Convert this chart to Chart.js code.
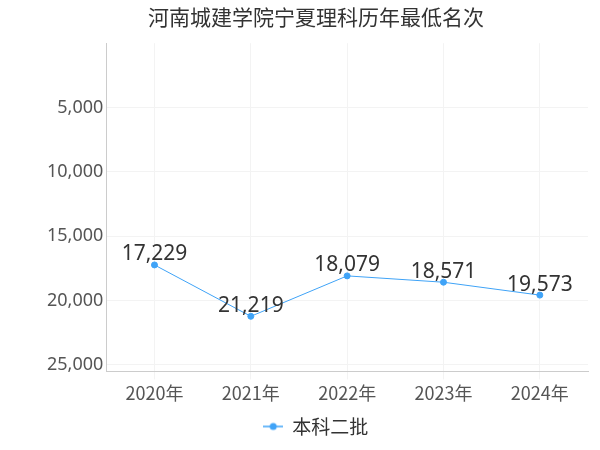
<!DOCTYPE html>
<html><head><meta charset="utf-8">
<script src="https://cdn.jsdelivr.net/npm/chart.js@4"></script>
<style>body{margin:0;background:#fff}#w{width:600px;height:450px}</style>
</head><body><div id="w"><canvas id="c"></canvas></div>
<script>
const categories=['2020年','2021年','2022年','2023年','2024年'];
const values=[17229,21219,18079,18571,19573];
const yTicks=[5000,10000,15000,20000,25000];
const seriesName='本科二批';
const icon=document.createElement('canvas');icon.width=20;icon.height=10;
(function(){const c=icon.getContext('2d');c.strokeStyle='#3fa3f7';c.lineWidth=1.5;c.beginPath();c.moveTo(0,5);c.lineTo(20,5);c.stroke();c.fillStyle='#3fa3f7';c.beginPath();c.arc(10,5,3.5,0,Math.PI*2);c.fill();})();
const labelPlugin={id:'lbl',afterDatasetsDraw(ch){const ctx=ch.ctx;const m=ch.getDatasetMeta(0);ctx.save();ctx.font='21px "Noto Sans", sans-serif';ctx.fillStyle='#333';ctx.textAlign='center';ctx.textBaseline='bottom';m.data.forEach((p,i)=>{ctx.fillText(values[i].toLocaleString('en-US'),p.x,p.y);});ctx.restore();}};
new Chart(document.getElementById('c'),{type:'line',
data:{labels:categories,datasets:[{label:seriesName,data:values,borderColor:'#3fa3f7',backgroundColor:'#3fa3f7',borderWidth:1,pointRadius:3,pointStyle:'circle',tension:0}]},
options:{responsive:true,maintainAspectRatio:false,animation:false,
layout:{padding:{left:44,right:12,top:0,bottom:4}},
plugins:{title:{display:true,text:'河南城建学院宁夏理科历年最低名次',align:'center',color:'#333',font:{size:21,family:'"Noto Sans CJK SC", sans-serif',weight:'normal'},padding:{top:4,bottom:14}},
legend:{position:'bottom',labels:{usePointStyle:true,color:'#333',font:{size:19,family:'"Noto Sans CJK SC", sans-serif'},
generateLabels:ch=>[{text:seriesName,pointStyle:icon,fontColor:'#333',strokeStyle:'#3fa3f7',fillStyle:'#3fa3f7',lineWidth:0,datasetIndex:0}]}},tooltip:{enabled:false}},
scales:{y:{reverse:true,min:0,max:25500,afterBuildTicks:a=>{a.ticks=yTicks.map(v=>({value:v}));},ticks:{color:'#555',font:{size:18,family:'"Noto Sans", sans-serif'},callback:v=>v.toLocaleString('en-US')},grid:{color:'#f3f3f3',drawTicks:false},border:{color:'#ccc'}},
x:{offset:true,ticks:{color:'#555',font:{size:18,family:'"Noto Sans CJK SC", sans-serif'}},grid:{color:'#f3f3f3'},border:{color:'#ccc'}}}},
plugins:[labelPlugin]});
</script></body></html>
